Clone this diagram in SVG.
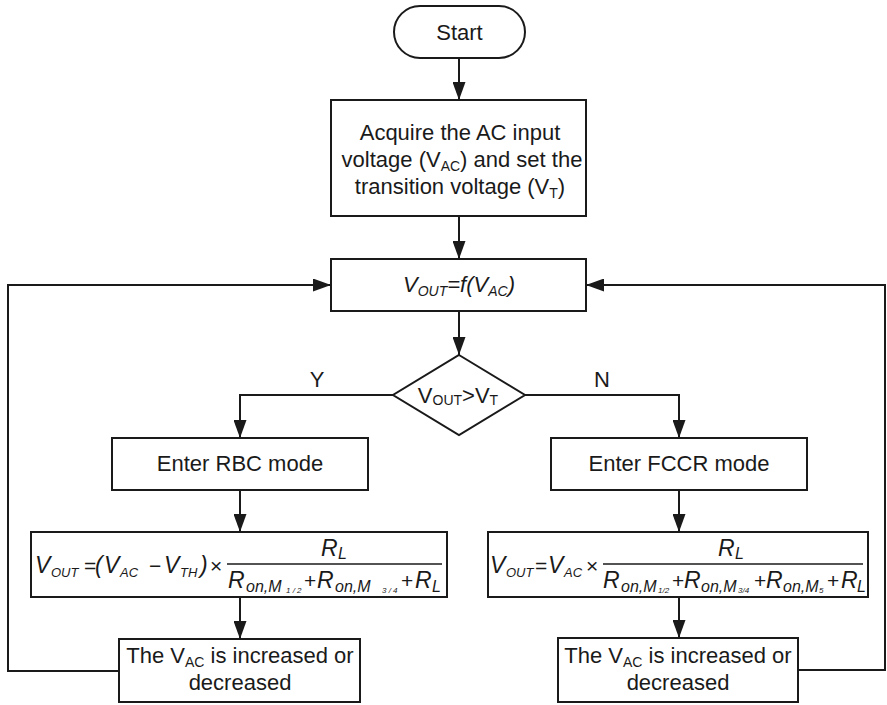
<svg xmlns="http://www.w3.org/2000/svg" width="887" height="705" viewBox="0 0 887 705">
<style>
.box{fill:#fff;stroke:#1a1a1a;stroke-width:2}
.ln{fill:none;stroke:#1a1a1a;stroke-width:2;marker-end:url(#arr)}
.pl{fill:none;stroke:#1a1a1a;stroke-width:1.3}
.t{font-family:"Liberation Sans",Arial,sans-serif;font-size:22px;fill:#1a1a1a}
.c{text-anchor:middle}
.s{font-size:14px}
.m{font-family:"Liberation Sans",Arial,sans-serif;font-style:italic;font-size:23px;fill:#1a1a1a}
.u{font-family:"Liberation Sans",Arial,sans-serif;font-size:21px;fill:#1a1a1a}
.ms{font-family:"Liberation Sans",Arial,sans-serif;font-style:italic;font-size:13px;fill:#1a1a1a}
.mo{font-family:"Liberation Sans",Arial,sans-serif;font-style:italic;font-size:16px;fill:#1a1a1a}
.mt{font-family:"Liberation Sans",Arial,sans-serif;font-style:italic;font-size:8px;fill:#1a1a1a}
</style>
<defs>
<marker id="arr" markerWidth="18" markerHeight="13" refX="18" refY="6.5" orient="auto" markerUnits="userSpaceOnUse">
<path d="M0,0 L18,6.5 L0,13 Z" fill="#1a1a1a"/>
</marker>
</defs>
<g id="connectors">
<path class="ln" d="M459,58 V100"/>
<path class="ln" d="M459,216 V259"/>
<path class="ln" d="M459,311 V355"/>
<path class="ln" d="M393,395 H240 V438"/>
<path class="ln" d="M525,395 H679 V438"/>
<path class="ln" d="M240,490 V532"/>
<path class="ln" d="M679,490 V532"/>
<path class="ln" d="M240,597 V639"/>
<path class="ln" d="M679,597 V638"/>
<path class="ln" d="M119,671 H8 V285 H331"/>
<path class="ln" d="M798,670 H885 V285 H586"/>
<text class="t c" x="317" y="387">Y</text>
<text class="t c" x="602" y="387">N</text>
</g>
<g id="start">
<rect class="box" x="394" y="6" width="131" height="52" rx="26"/>
<text class="t c" x="459.5" y="40">Start</text>
</g>
<g id="acquire">
<rect class="box" x="331" y="100" width="255" height="116"/>
<text class="t c" x="460" y="140">Acquire the AC input</text>
<text class="t c" x="462" y="167">voltage (V<tspan class="s" dy="4">AC</tspan><tspan dy="-4">) and set the</tspan></text>
<text class="t c" x="460" y="194">transition voltage (V<tspan class="s" dy="4">T</tspan><tspan dy="-4">)</tspan></text>
</g>
<g id="vout">
<rect class="box" x="331" y="259" width="255" height="52"/>
<text class="t c" x="459" y="292" font-style="italic">V<tspan class="s" dy="4">OUT</tspan><tspan dy="-4">=f(V</tspan><tspan class="s" dy="4">AC</tspan><tspan dy="-4">)</tspan></text>
</g>
<g id="decision">
<polygon class="box" points="459,355 525,395 459,435 393,395"/>
<text class="t c" x="458" y="403">V<tspan class="s" dy="2">OUT</tspan><tspan dy="-2">&gt;V</tspan><tspan class="s" dy="2">T</tspan></text>
</g>
<g id="rbc">
<rect class="box" x="112" y="438" width="256" height="52"/>
<text class="t c" x="240" y="471">Enter RBC mode</text>
</g>
<g id="fccr">
<rect class="box" x="551" y="438" width="256" height="52"/>
<text class="t c" x="679" y="471">Enter FCCR mode</text>
</g>
<g id="formula-rbc">
<rect class="box" x="31" y="532" width="416" height="65"/>
<text class="m" x="35" y="573">V</text>
<text class="ms" x="51" y="577">OUT</text>
<text class="u" x="84" y="573">=</text>
<text class="m" x="95" y="573">(</text>
<text class="m" x="104" y="573">V</text>
<text class="ms" x="120" y="577">AC</text>
<text class="u" x="149" y="573">−</text>
<text class="m" x="164" y="573">V</text>
<text class="ms" x="180" y="577">TH</text>
<text class="m" x="200" y="573">)</text>
<text class="u" x="210" y="573">×</text>
<line class="pl" x1="227" y1="564" x2="442" y2="564"/>
<text class="m" x="321" y="556">R</text>
<text class="mo" x="338" y="559">L</text>
<text class="m" x="228" y="588">R</text>
<text class="mo" x="246" y="592">on,M</text>
<text class="mt" x="286" y="593">1 / 2</text>
<text class="u" x="304" y="588">+</text>
<text class="m" x="317" y="588">R</text>
<text class="mo" x="335" y="592">on,M</text>
<text class="mt" x="382" y="593">3 / 4</text>
<text class="u" x="401" y="588">+</text>
<text class="m" x="415" y="588">R</text>
<text class="mo" x="432" y="592">L</text>
</g>
<g id="formula-fccr">
<rect class="box" x="488" y="532" width="380" height="65"/>
<text class="m" x="490" y="573">V</text>
<text class="ms" x="506" y="577">OUT</text>
<text class="u" x="535" y="573">=</text>
<text class="m" x="548" y="573">V</text>
<text class="ms" x="564" y="577">AC</text>
<text class="u" x="586" y="573">×</text>
<line class="pl" x1="603" y1="564" x2="863" y2="564"/>
<text class="m" x="718" y="556">R</text>
<text class="mo" x="735" y="559">L</text>
<text class="m" x="603" y="588">R</text>
<text class="mo" x="621" y="592">on,M</text>
<text class="mt" x="658" y="593">1/2</text>
<text class="u" x="672" y="588">+</text>
<text class="m" x="684" y="588">R</text>
<text class="mo" x="701" y="592">on,M</text>
<text class="mt" x="738" y="593">3/4</text>
<text class="u" x="754" y="588">+</text>
<text class="m" x="766" y="588">R</text>
<text class="mo" x="783" y="592">on,M</text>
<text class="mt" x="819" y="593">5</text>
<text class="u" x="827" y="588">+</text>
<text class="m" x="841" y="588">R</text>
<text class="mo" x="857" y="592">L</text>
</g>
<g id="change-rbc">
<rect class="box" x="119" y="639" width="241" height="63"/>
<text class="t c" x="240" y="663">The V<tspan class="s" dy="4">AC</tspan><tspan dy="-4"> is increased or</tspan></text>
<text class="t c" x="240" y="690">decreased</text>
</g>
<g id="change-fccr">
<rect class="box" x="558" y="638" width="240" height="64"/>
<text class="t c" x="678" y="663">The V<tspan class="s" dy="4">AC</tspan><tspan dy="-4"> is increased or</tspan></text>
<text class="t c" x="678" y="690">decreased</text>
</g>
</svg>
